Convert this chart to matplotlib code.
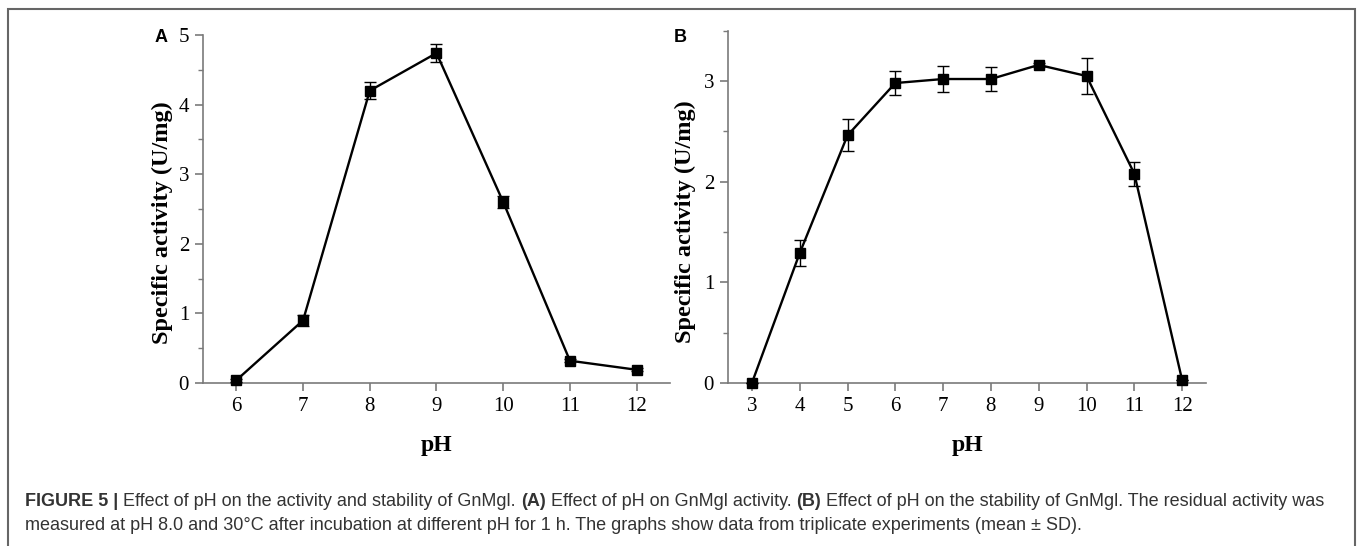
import matplotlib
matplotlib.use("Agg")
import matplotlib.pyplot as plt
from matplotlib.patches import Rectangle
from matplotlib.ticker import MultipleLocator

# panel A: activity vs pH
ph_a = [6, 7, 8, 9, 10, 11, 12]
act_a = [0.04, 0.90, 4.20, 4.74, 2.60, 0.32, 0.19]
err_a = [0.02, 0.08, 0.12, 0.13, 0.08, 0.02, 0.02]

# panel B: stability vs pH
ph_b = [3, 4, 5, 6, 7, 8, 9, 10, 11, 12]
act_b = [0.0, 1.29, 2.46, 2.98, 3.02, 3.02, 3.16, 3.05, 2.08, 0.03]
err_b = [0.0, 0.13, 0.16, 0.115, 0.13, 0.115, 0.02, 0.18, 0.12, 0.0]

serif = ["Liberation Serif", "DejaVu Serif"]
sans = ["Liberation Sans", "DejaVu Sans"]
spine_c = "#7a7a7a"

fig = plt.figure(figsize=(13.57, 5.46), dpi=100)
W, H = 1357, 546


def style(ax, xlim, ylim, yminor, lab_xy):
    ax.set_xlim(*xlim)
    ax.set_ylim(*ylim)
    for s in ("top", "right"):
        ax.spines[s].set_visible(False)
    for s in ("left", "bottom"):
        ax.spines[s].set_color(spine_c)
        ax.spines[s].set_linewidth(1.2)
    ax.xaxis.set_major_locator(MultipleLocator(1))
    ax.yaxis.set_major_locator(MultipleLocator(1))
    ax.yaxis.set_minor_locator(MultipleLocator(yminor))
    ax.tick_params(axis="both", which="major", direction="out", length=6,
                   width=1.2, color=spine_c, labelsize=15, pad=4)
    ax.tick_params(axis="y", which="minor", direction="out", length=3.5,
                   width=1.0, color=spine_c)
    for lab in ax.get_xticklabels() + ax.get_yticklabels():
        lab.set_family(serif)
    ax.set_ylabel("Specific activity (U/mg)", family=serif, fontweight="bold",
                  fontsize=17.5)
    ax.yaxis.set_label_coords(*lab_xy)
    ax.set_xlabel("pH", family=serif, fontweight="bold", fontsize=17,
                  labelpad=14)


def plot(ax, x, y, e):
    ax.errorbar(x, y, yerr=e, color="black", lw=1.7, marker="s", ms=7.5,
                mfc="black", mec="black", ecolor="black", elinewidth=1,
                capsize=4, capthick=1, clip_on=False, zorder=3)


axA = fig.add_axes([203 / W, 1 - 383 / H, (670 - 203) / W, (383 - 35) / H])
plot(axA, ph_a, act_a, err_a)
style(axA, (5.5, 12.5), (0, 5), 0.5, (-0.064, 0.46))

axB = fig.add_axes([728 / W, 1 - 383 / H, (1206 - 728) / W, (383 - 30.7) / H])
plot(axB, ph_b, act_b, err_b)
style(axB, (2.5, 12.5), (0, 3.5), 0.5, (-0.067, 0.457))

fig.text(155 / W, 1 - 38 / H, "A", family=sans, fontweight="bold",
         fontsize=13, va="center", ha="left")
fig.text(674 / W, 1 - 37 / H, "B", family=sans, fontweight="bold",
         fontsize=13, va="center", ha="left")

# frame around the figure
fig.patches.append(Rectangle((8 / W, -0.05), (1355 - 8) / W, 1 - 9 / H + 0.05,
                             transform=fig.transFigure, fill=False,
                             edgecolor="#666666", lw=1.5, clip_on=False))

# caption with bold pieces, laid out piece by piece
cap_c = "#333333"
lines = [
    [("FIGURE 5 |", "bold"), (" Effect of pH on the activity and stability of GnMgl. ", "normal"),
     ("(A)", "bold"), (" Effect of pH on GnMgl activity. ", "normal"), ("(B)", "bold"),
     (" Effect of pH on the stability of GnMgl. The residual activity was", "normal")],
    [("measured at pH 8.0 and 30\u00b0C after incubation at different pH for 1 h. "
      "The graphs show data from triplicate experiments (mean \u00b1 SD).", "normal")],
]
line_y = [502, 525]
renderer = fig.canvas.get_renderer()
for parts, yy in zip(lines, line_y):
    x0 = 25
    for txt, wt in parts:
        t = fig.text(x0 / W, 1 - yy / H, txt, family=sans, fontweight=wt,
                     fontsize=13, color=cap_c, va="center", ha="left")
        bb = t.get_window_extent(renderer=renderer)
        x0 += bb.width

fig.savefig("out.png", dpi=100)
